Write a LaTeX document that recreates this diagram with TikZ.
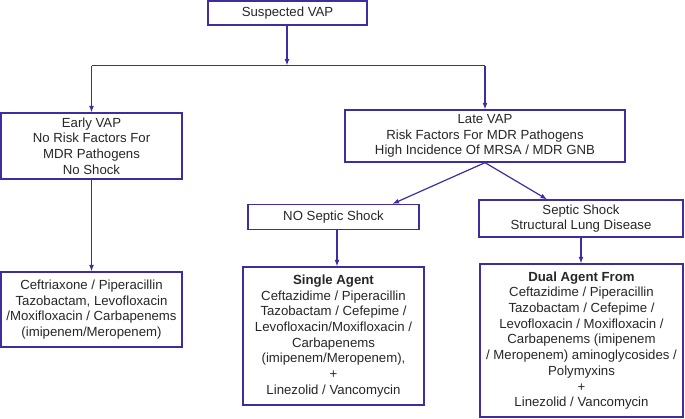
\documentclass[tikz,border=0pt]{standalone}
\usepackage{fontspec}
\setmainfont{Liberation Sans}
\usetikzlibrary{arrows.meta,calc}
\definecolor{lc}{RGB}{62,44,160}
\begin{document}
\begin{tikzpicture}[x=1pt,y=-1pt,
  box/.style={draw=lc,line width=1.3pt,inner sep=0pt,align=center,
    font=\fontsize{13.2}{15.7}\selectfont,text=black!85},
  arr/.style={draw=lc,line width=1.2pt,-{Latex[length=6.5pt,width=5pt]}},
  ln/.style={draw=lc,line width=1.2pt}]
\useasboundingbox (0,0) rectangle (685,418);
\node[box,minimum width=159pt,minimum height=24pt] (sus) at (287.5,13) {Suspected VAP};
\node[box,minimum width=181pt,minimum height=66pt] (early) at (91.5,146) {Early VAP\\No Risk Factors For\\MDR Pathogens\\No Shock};
\node[box,minimum width=280pt,minimum height=52pt] (late) at (485,136) {Late VAP\\Risk Factors For MDR Pathogens\\High Incidence Of MRSA / MDR GNB};
\node[box,minimum width=171pt,minimum height=25pt] (nosep) at (333.5,217) {NO Septic Shock};
\node[box,minimum width=204pt,minimum height=37pt] (sep) at (581,218.5) {Septic Shock\\Structural Lung Disease};
\node[box,minimum width=181pt,minimum height=75pt] (ceft) at (91.5,309.5) {Ceftriaxone / Piperacillin\\Tazobactam, Levofloxacin\\/Moxifloxacin / Carbapenems\\(imipenem/Meropenem)};
\node[box,minimum width=181pt,minimum height=138pt] (single) at (333.5,336) {\textbf{Single Agent}\\Ceftazidime / Piperacillin\\Tazobactam / Cefepime /\\Levofloxacin/Moxifloxacin /\\Carbapenems\\(imipenem/Meropenem),\\+\\Linezolid / Vancomycin};
\node[box,minimum width=203pt,minimum height=153pt] (dual) at (581.5,340.5) {\textbf{Dual Agent From}\\Ceftazidime / Piperacillin\\Tazobactam / Cefepime /\\Levofloxacin / Moxifloxacin /\\Carbapenems (imipenem\\/ Meropenem) aminoglycosides /\\Polymyxins\\+\\Linezolid / Vancomycin};
\coordinate (split) at (287,65.5);
\draw[arr] (sus.south -| split) -- (split);
\draw[ln] (early.north |- split) -- (late.north |- split);
\draw[arr] (early.north |- split) -- (early.north);
\draw[arr] (late.north |- split) -- (late.north);
\draw[arr] (late.south) -- ([xshift=59pt]nosep.north);
\draw[arr] (late.south) -- ([xshift=-34pt]sep.north);
\draw[arr] (early.south) -- (ceft.north);
\draw[arr] ([xshift=3.5pt]nosep.south) -- ([xshift=3.5pt]single.north);
\draw[arr] (sep.south) -- (sep.south |- dual.north);
\end{tikzpicture}
\end{document}
